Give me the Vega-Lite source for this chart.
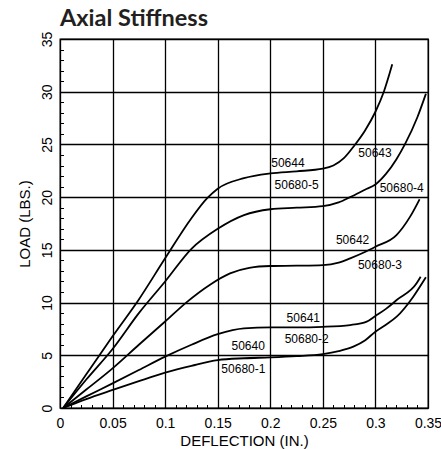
{
  "$schema": "https://vega.github.io/schema/vega-lite/v6.json",
  "width": 368,
  "height": 369,
  "autosize": "none",
  "padding": {"left": 60, "top": 39, "right": 13, "bottom": 41},
  "title": {"text": "Axial Stiffness", "anchor": "start", "frame": "group", "font": "Lato", "fontSize": 23.5, "fontWeight": "bold", "color": "#231f20", "offset": -18, "baseline": "alphabetic"},
  "config": {"view": {"stroke": "black", "strokeWidth": 1.3}},
  "datasets": {
    "curves": [
      {"s": "A", "x": 0.003, "y": 0}, {"s": "A", "x": 0.025, "y": 3.2}, {"s": "A", "x": 0.05, "y": 6.8}, {"s": "A", "x": 0.075, "y": 10.3}, {"s": "A", "x": 0.1, "y": 14.2}, {"s": "A", "x": 0.125, "y": 18.0}, {"s": "A", "x": 0.14, "y": 19.9}, {"s": "A", "x": 0.15, "y": 20.8}, {"s": "A", "x": 0.175, "y": 21.8}, {"s": "A", "x": 0.2, "y": 22.25}, {"s": "A", "x": 0.225, "y": 22.45}, {"s": "A", "x": 0.25, "y": 22.7}, {"s": "A", "x": 0.26, "y": 23.0}, {"s": "A", "x": 0.27, "y": 23.7}, {"s": "A", "x": 0.28, "y": 24.9}, {"s": "A", "x": 0.29, "y": 26.3}, {"s": "A", "x": 0.3, "y": 28.1}, {"s": "A", "x": 0.308, "y": 30.0}, {"s": "A", "x": 0.316, "y": 32.6},
      {"s": "B", "x": 0.003, "y": 0}, {"s": "B", "x": 0.025, "y": 2.7}, {"s": "B", "x": 0.05, "y": 5.6}, {"s": "B", "x": 0.075, "y": 9.0}, {"s": "B", "x": 0.1, "y": 12.0}, {"s": "B", "x": 0.125, "y": 15.1}, {"s": "B", "x": 0.15, "y": 17.0}, {"s": "B", "x": 0.175, "y": 18.3}, {"s": "B", "x": 0.2, "y": 18.85}, {"s": "B", "x": 0.225, "y": 19.0}, {"s": "B", "x": 0.25, "y": 19.15}, {"s": "B", "x": 0.265, "y": 19.5}, {"s": "B", "x": 0.276, "y": 20.0}, {"s": "B", "x": 0.29, "y": 20.7}, {"s": "B", "x": 0.3, "y": 21.2}, {"s": "B", "x": 0.31, "y": 22.2}, {"s": "B", "x": 0.32, "y": 23.6}, {"s": "B", "x": 0.328, "y": 25.0}, {"s": "B", "x": 0.34, "y": 27.6}, {"s": "B", "x": 0.348, "y": 29.8},
      {"s": "C", "x": 0.003, "y": 0}, {"s": "C", "x": 0.025, "y": 1.75}, {"s": "C", "x": 0.05, "y": 3.76}, {"s": "C", "x": 0.075, "y": 6.0}, {"s": "C", "x": 0.1, "y": 8.2}, {"s": "C", "x": 0.12, "y": 10.0}, {"s": "C", "x": 0.1427, "y": 11.7}, {"s": "C", "x": 0.1617, "y": 12.77}, {"s": "C", "x": 0.18, "y": 13.3}, {"s": "C", "x": 0.2, "y": 13.47}, {"s": "C", "x": 0.225, "y": 13.5}, {"s": "C", "x": 0.25, "y": 13.56}, {"s": "C", "x": 0.265, "y": 13.8}, {"s": "C", "x": 0.276, "y": 14.2}, {"s": "C", "x": 0.29, "y": 14.8}, {"s": "C", "x": 0.3, "y": 15.3}, {"s": "C", "x": 0.32, "y": 16.4}, {"s": "C", "x": 0.333, "y": 18.15}, {"s": "C", "x": 0.342, "y": 19.8},
      {"s": "D", "x": 0.003, "y": 0}, {"s": "D", "x": 0.025, "y": 1.1}, {"s": "D", "x": 0.05, "y": 2.34}, {"s": "D", "x": 0.075, "y": 3.6}, {"s": "D", "x": 0.1, "y": 4.87}, {"s": "D", "x": 0.125, "y": 6.0}, {"s": "D", "x": 0.15, "y": 7.0}, {"s": "D", "x": 0.175, "y": 7.56}, {"s": "D", "x": 0.2, "y": 7.65}, {"s": "D", "x": 0.225, "y": 7.65}, {"s": "D", "x": 0.25, "y": 7.7}, {"s": "D", "x": 0.276, "y": 7.87}, {"s": "D", "x": 0.2917, "y": 8.19}, {"s": "D", "x": 0.3, "y": 8.73}, {"s": "D", "x": 0.31, "y": 9.4}, {"s": "D", "x": 0.3202, "y": 10.24}, {"s": "D", "x": 0.339, "y": 11.8}, {"s": "D", "x": 0.343, "y": 12.45},
      {"s": "E", "x": 0.003, "y": 0}, {"s": "E", "x": 0.025, "y": 0.85}, {"s": "E", "x": 0.05, "y": 1.71}, {"s": "E", "x": 0.075, "y": 2.55}, {"s": "E", "x": 0.1, "y": 3.35}, {"s": "E", "x": 0.125, "y": 4.0}, {"s": "E", "x": 0.15, "y": 4.55}, {"s": "E", "x": 0.175, "y": 4.72}, {"s": "E", "x": 0.2, "y": 4.8}, {"s": "E", "x": 0.225, "y": 4.92}, {"s": "E", "x": 0.25, "y": 5.12}, {"s": "E", "x": 0.265, "y": 5.4}, {"s": "E", "x": 0.279, "y": 5.82}, {"s": "E", "x": 0.29, "y": 6.4}, {"s": "E", "x": 0.3, "y": 7.24}, {"s": "E", "x": 0.31, "y": 7.9}, {"s": "E", "x": 0.3202, "y": 8.66}, {"s": "E", "x": 0.336, "y": 10.56}, {"s": "E", "x": 0.348, "y": 12.4}
    ],
    "labels": [
      {"t": "50644", "x": 0.2168, "y": 23.2},
      {"t": "50680-5", "x": 0.225, "y": 21.15},
      {"t": "50643", "x": 0.2996, "y": 24.15},
      {"t": "50680-4", "x": 0.325, "y": 20.9},
      {"t": "50642", "x": 0.2783, "y": 15.94},
      {"t": "50680-3", "x": 0.3043, "y": 13.56},
      {"t": "50641", "x": 0.2314, "y": 8.5},
      {"t": "50680-2", "x": 0.2346, "y": 6.5},
      {"t": "50640", "x": 0.179, "y": 5.88},
      {"t": "50680-1", "x": 0.1744, "y": 3.67}
    ]
  },
  "resolve": {"axis": {"x": "independent", "y": "independent"}},
  "layer": [
    {
      "data": {"name": "curves"},
      "mark": {"type": "line", "interpolate": "monotone", "color": "black", "strokeWidth": 1.8},
      "encoding": {
        "x": {"field": "x", "type": "quantitative", "scale": {"domain": [0, 0.35], "nice": false, "zero": false},
          "axis": {"orient": "bottom", "values": [0, 0.05, 0.1, 0.15, 0.2, 0.25, 0.3, 0.35], "format": "~g", "grid": true, "gridColor": "black", "gridWidth": 1.3, "gridOpacity": 1, "ticks": false, "domain": false, "labelFont": "Liberation Sans", "labelFontSize": 14, "labelColor": "black", "labelFlush": false, "labelOverlap": false, "labelPadding": 8, "title": "DEFLECTION (IN.)", "titleFont": "Liberation Sans", "titleFontSize": 15, "titleFontWeight": "normal", "titleColor": "black", "titlePadding": 3}},
        "y": {"field": "y", "type": "quantitative", "scale": {"domain": [0, 35], "nice": false, "zero": false},
          "axis": {"orient": "left", "values": [0, 5, 10, 15, 20, 25, 30, 35], "grid": true, "gridColor": "black", "gridWidth": 1.3, "gridOpacity": 1, "ticks": false, "domain": false, "labelFont": "Liberation Sans", "labelFontSize": 14, "labelColor": "black", "labelFlush": false, "labelOverlap": false, "labelAngle": -90, "labelAlign": "center", "labelBaseline": "bottom", "labelPadding": 6, "title": "LOAD (LBS.)", "titleFont": "Liberation Sans", "titleFontSize": 15, "titleFontWeight": "normal", "titleColor": "black", "titlePadding": 8}},
        "detail": {"field": "s", "type": "nominal"}
      }
    },
    {
      "data": {"name": "labels"},
      "mark": {"type": "text", "font": "Liberation Sans", "fontSize": 12, "color": "black", "align": "center", "baseline": "middle"},
      "encoding": {
        "x": {"field": "x", "type": "quantitative",
          "axis": {"orient": "bottom", "values": [0.01, 0.02, 0.03, 0.04, 0.06, 0.07, 0.08, 0.09, 0.11, 0.12, 0.13, 0.14, 0.16, 0.17, 0.18, 0.19, 0.21, 0.22, 0.23, 0.24, 0.26, 0.27, 0.28, 0.29, 0.31, 0.32, 0.33, 0.34], "labels": false, "grid": false, "domain": false, "ticks": true, "tickSize": -3.5, "tickColor": "black", "tickWidth": 1, "title": null}},
        "y": {"field": "y", "type": "quantitative",
          "axis": {"orient": "left", "values": [1, 2, 3, 4, 6, 7, 8, 9, 11, 12, 13, 14, 16, 17, 18, 19, 21, 22, 23, 24, 26, 27, 28, 29, 31, 32, 33, 34], "labels": false, "grid": false, "domain": false, "ticks": true, "tickSize": -3.5, "tickColor": "black", "tickWidth": 1, "title": null}},
        "text": {"field": "t", "type": "nominal"}
      }
    }
  ]
}
